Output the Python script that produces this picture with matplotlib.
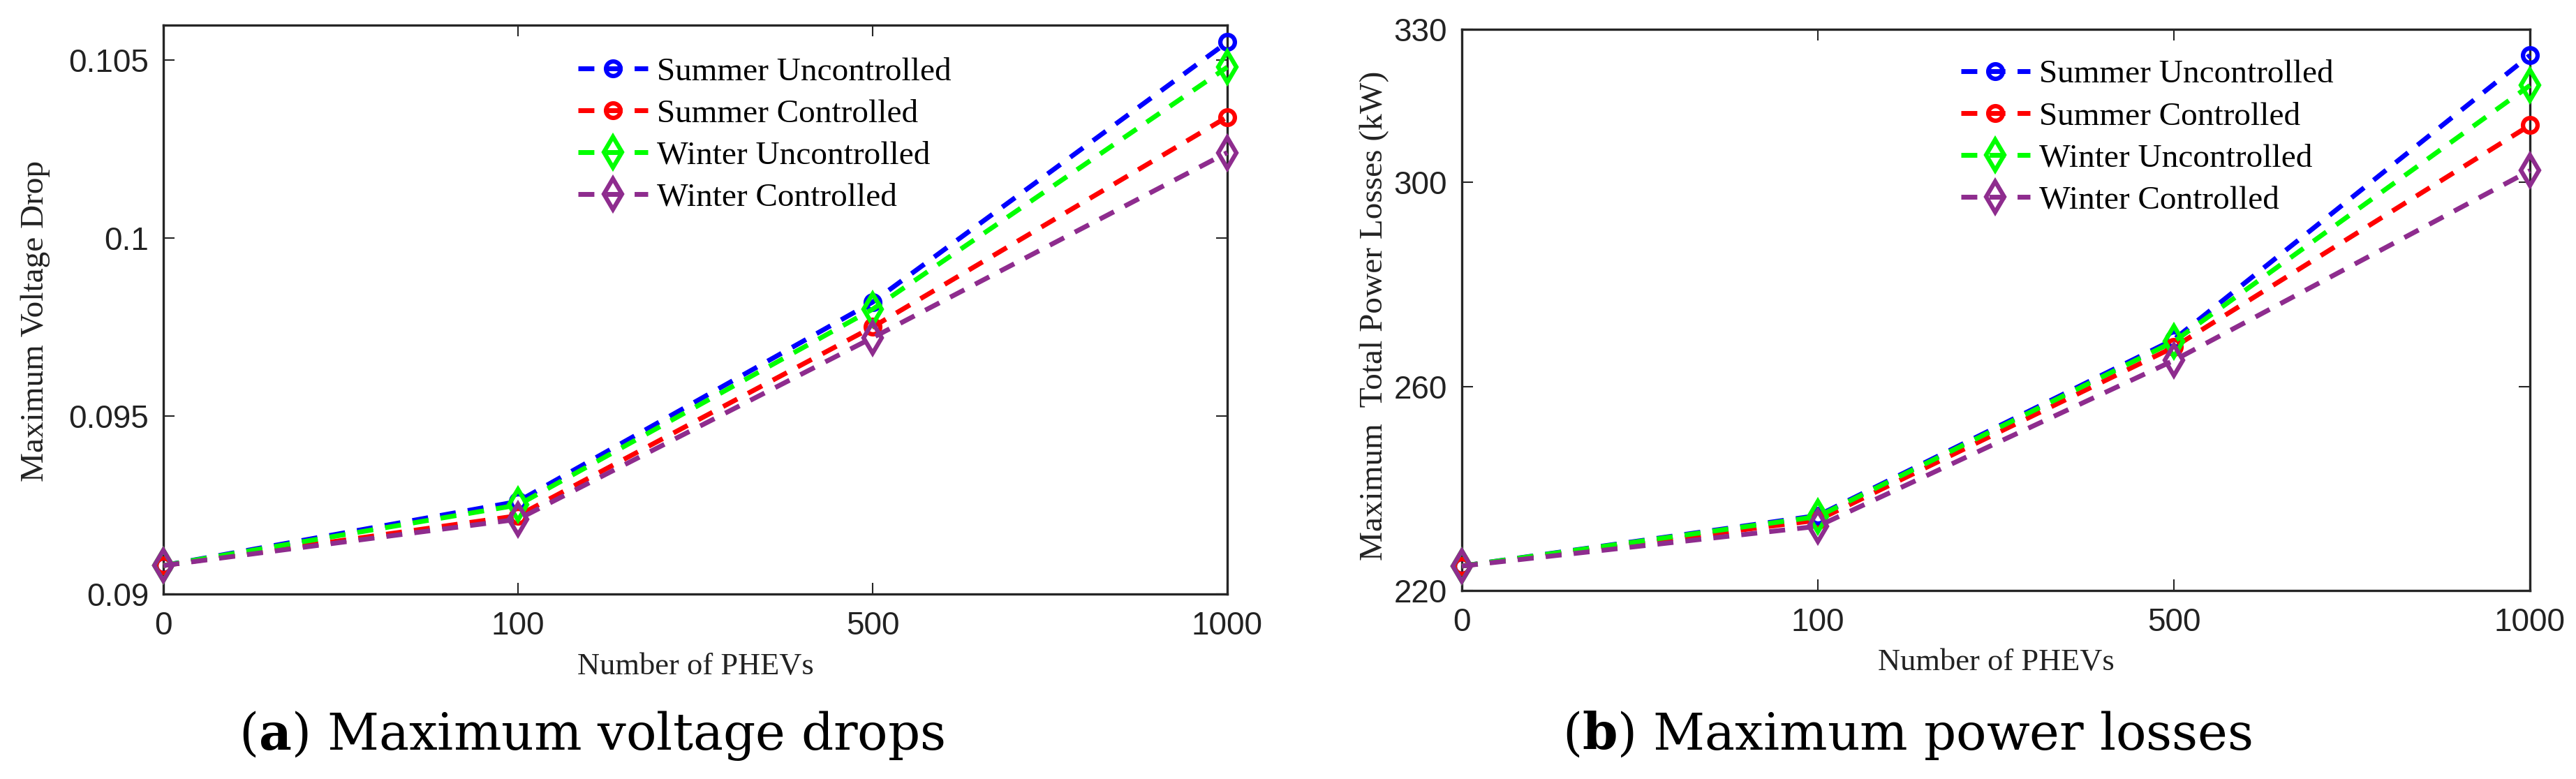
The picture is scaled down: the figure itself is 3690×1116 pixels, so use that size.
import matplotlib
matplotlib.use('Agg')
import matplotlib.pyplot as plt

# ---------------- data ----------------
phevs = ['0', '100', '500', '1000']
series_names = ['Summer Uncontrolled', 'Summer Controlled',
                'Winter Uncontrolled', 'Winter Controlled']

vdrop_summer_unc = [0.0908, 0.0926, 0.0982, 0.1055]
vdrop_summer_con = [0.0908, 0.0922, 0.0975, 0.1034]
vdrop_winter_unc = [0.0908, 0.0925, 0.0980, 0.1048]
vdrop_winter_con = [0.0908, 0.0921, 0.0972, 0.1024]

loss_summer_unc = [224.8, 234.7, 269.2, 324.9]
loss_summer_con = [224.8, 233.8, 267.7, 311.2]
loss_winter_unc = [224.8, 234.5, 268.8, 319.0]
loss_winter_con = [224.8, 232.6, 265.1, 302.3]

vdrop_ticks = [0.09, 0.095, 0.1, 0.105]
vdrop_ticklabels = ['0.09', '0.095', '0.1', '0.105']
loss_ticks = [220, 260, 300, 330]
loss_ticklabels = ['220', '260', '300', '330']

# ---------------- style ----------------
plt.rcParams['mathtext.fontset'] = 'dejavuserif'
colors = ['#0000FF', '#FF0000', '#00FF00', '#8E2C8E']
markers = ['o', 'o', 'd', 'd']
msizes = [15, 15, 22, 22]
mews = [4.5, 4.5, 4.5, 4.5]
spine_col = '#262626'
serif = ['Liberation Serif', 'DejaVu Serif']
sans = ['Liberation Sans', 'DejaVu Sans']

W, H = 3691, 1116
fig = plt.figure(figsize=(W / 100, H / 100), dpi=100)

ax1 = fig.add_axes([234 / W, 1 - 851 / H, (1758 - 234) / W, (851 - 36) / H])
ax2 = fig.add_axes([2094 / W, 1 - 846 / H, (3624 - 2094) / W, (846 - 42) / H])

x = list(range(len(phevs)))


def draw(ax, series, ylim, yticks, yticklabels, ylabel, ylab_x, ylab_y, leg_xy):
    for vals, name, c, m, ms, mew in zip(series, series_names, colors, markers, msizes, mews):
        ax.plot(x, vals, color=c, lw=5, linestyle=(0, (3.3, 2.5)),
                marker=m, ms=ms, mew=mew, mfc='none', mec=c, label=name,
                clip_on=False, zorder=3)
    ax.set_xlim(0, len(phevs) - 1)
    ax.set_ylim(*ylim)
    ax.set_xticks(x)
    ax.set_xticklabels(phevs)
    ax.set_yticks(yticks)
    ax.set_yticklabels(yticklabels)
    for s in ax.spines.values():
        s.set_linewidth(2.4)
        s.set_color(spine_col)
    ax.tick_params(direction='in', top=True, right=True, length=11.5, width=1.5,
                   colors=spine_col, labelcolor='#222222')
    ax.tick_params(axis='x', pad=17)
    ax.tick_params(axis='y', pad=15)
    for lab in ax.get_xticklabels() + ax.get_yticklabels():
        lab.set_fontfamily(sans)
        lab.set_fontsize(33)
    ax.set_xlabel('Number of PHEVs', family=serif, fontsize=32, color='#222222')
    ax.xaxis.set_label_coords(0.5, -0.103)
    ax.set_ylabel(ylabel, family=serif, fontsize=34, color='#222222')
    ax.yaxis.set_label_coords(ylab_x, ylab_y)
    leg = ax.legend(loc='upper left', bbox_to_anchor=leg_xy, frameon=False,
                    prop={'family': serif, 'size': 34}, borderpad=0, borderaxespad=0,
                    handlelength=2.1, handletextpad=0.28, labelspacing=0.36)
    return leg


draw(ax1, [vdrop_summer_unc, vdrop_summer_con, vdrop_winter_unc, vdrop_winter_con],
     (0.09, 0.10598), vdrop_ticks, vdrop_ticklabels, 'Maximum Voltage Drop',
     -0.106, 0.48, (0.390, 0.944))
draw(ax2, [loss_summer_unc, loss_summer_con, loss_winter_unc, loss_winter_con],
     (220, 330), loss_ticks, loss_ticklabels, 'Maximum  Total Power Losses (kW)',
     -0.068, 0.49, (0.467, 0.946))

fig.text(847 / W, 1 - 1074 / H, r'($\mathbf{a}$) Maximum voltage drops',
         ha='center', va='baseline', fontsize=52, family='DejaVu Serif')
fig.text(2732 / W, 1 - 1074 / H, r'($\mathbf{b}$) Maximum power losses',
         ha='center', va='baseline', fontsize=52, family='DejaVu Serif')

fig.savefig('out.png', dpi=100, facecolor='white')
